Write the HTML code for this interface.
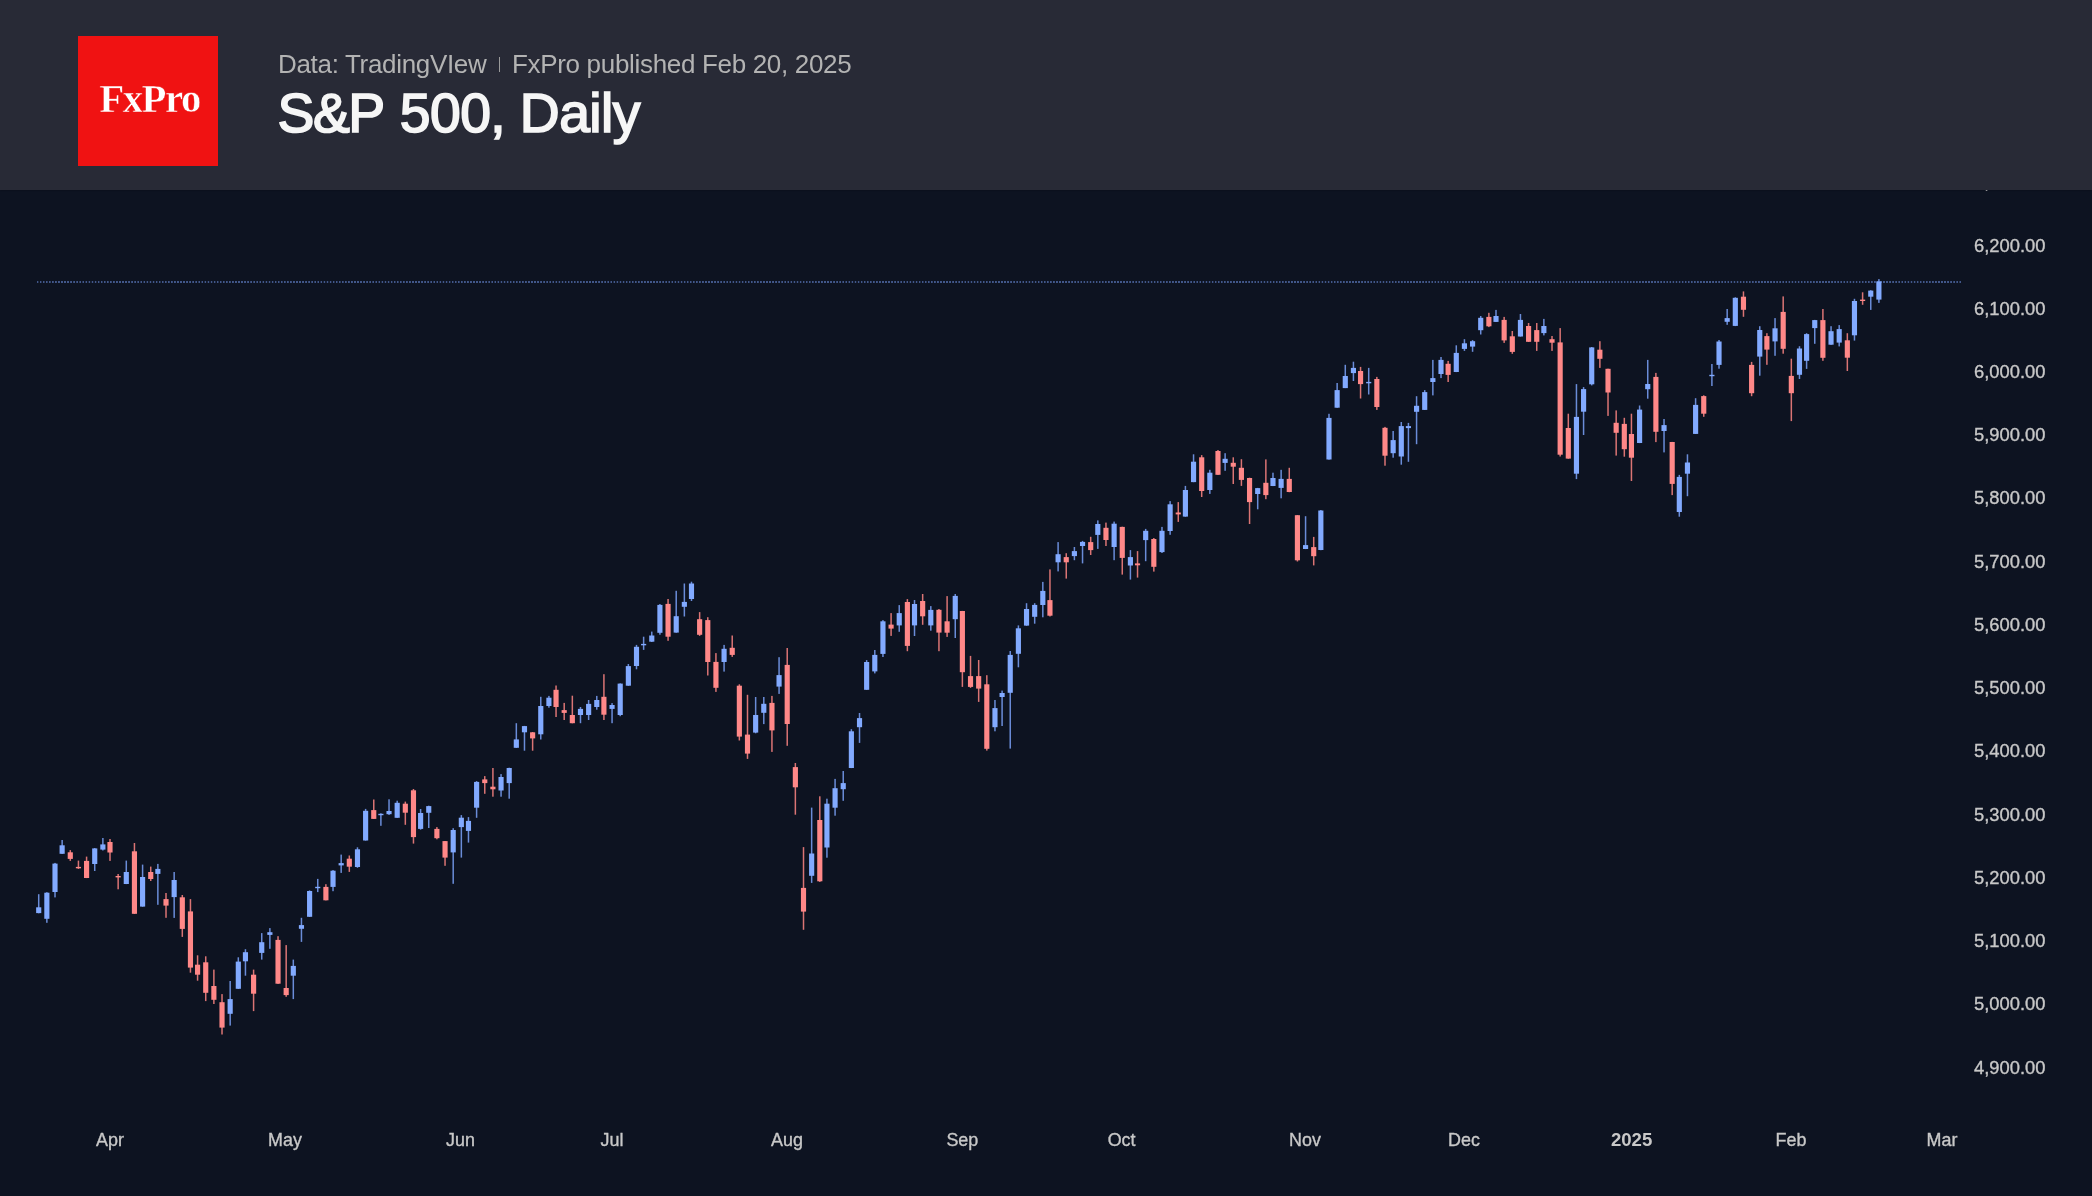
<!DOCTYPE html>
<html><head><meta charset="utf-8"><title>S&amp;P 500, Daily</title>
<style>
html,body{margin:0;padding:0;}
body{width:2092px;height:1196px;overflow:hidden;background:#0d1321;font-family:"Liberation Sans",sans-serif;position:relative;}
#chart{will-change:transform;position:absolute;left:0;top:0;width:2092px;height:1196px;background:#0d1321;overflow:hidden;}
#hdr{will-change:transform;position:absolute;left:0;top:0;width:2092px;height:189.8px;background:#282a36;box-shadow:0 0 2px rgba(0,0,0,.35);}
#logo{position:absolute;left:78px;top:36px;width:140px;height:129.6px;background:#f01212;}
#logo span{position:absolute;left:0;width:140px;text-align:center;top:43.0px;padding-left:1.6px;font-family:"Liberation Serif",serif;font-weight:bold;font-size:40.8px;line-height:40px;color:#fff;-webkit-text-stroke:0.5px #f01212;letter-spacing:-1.45px;}
#sub{position:absolute;left:278px;top:48px;font-size:26px;line-height:32px;color:#b3b3b3;white-space:nowrap;letter-spacing:-0.32px;}
#sep{position:absolute;left:499px;top:56.5px;width:1.2px;height:15px;background:#9a9a9a;}
#ttl{position:absolute;left:277.6px;top:81.1px;font-size:55.3px;line-height:64px;font-weight:normal;color:#f6f6f6;-webkit-text-stroke:1.7px #f6f6f6;white-space:nowrap;letter-spacing:-0.6px;}
.yl{position:absolute;left:1974px;width:90px;height:24px;line-height:24px;font-size:18.35px;color:#c8c8c8;-webkit-text-stroke:0.35px #c8c8c8;white-space:nowrap;}
.xl{position:absolute;top:1127.8px;width:80px;height:24px;line-height:24px;text-align:center;font-size:17.9px;color:#c8c8c8;-webkit-text-stroke:0.35px #c8c8c8;white-space:nowrap;}
.xl.b{font-weight:bold;font-size:18.6px;-webkit-text-stroke:0;}
#dot{position:absolute;left:36.6px;top:281.2px;width:1924.2px;height:1.35px;background:repeating-linear-gradient(to right,#41578a 0,#41578a 1.1px,rgba(65,87,138,0) 1.7px,rgba(65,87,138,0) 2.5px,#41578a 3.052px);}
svg{position:absolute;left:0;top:0;}
</style></head><body>
<div id="chart">
<div class="yl" style="top:170.3px"><span style="visibility:hidden">6</span>,<span style="visibility:hidden">300.00</span></div>
<div class="yl" style="top:233.5px">6,200.00</div>
<div class="yl" style="top:296.7px">6,100.00</div>
<div class="yl" style="top:360.0px">6,000.00</div>
<div class="yl" style="top:423.2px">5,900.00</div>
<div class="yl" style="top:486.4px">5,800.00</div>
<div class="yl" style="top:549.6px">5,700.00</div>
<div class="yl" style="top:612.9px">5,600.00</div>
<div class="yl" style="top:676.1px">5,500.00</div>
<div class="yl" style="top:739.3px">5,400.00</div>
<div class="yl" style="top:802.6px">5,300.00</div>
<div class="yl" style="top:865.8px">5,200.00</div>
<div class="yl" style="top:929.0px">5,100.00</div>
<div class="yl" style="top:992.3px">5,000.00</div>
<div class="yl" style="top:1055.5px">4,900.00</div>
<div class="xl" style="left:70.0px">Apr</div>
<div class="xl" style="left:245.0px">May</div>
<div class="xl" style="left:420.5px">Jun</div>
<div class="xl" style="left:572.0px">Jul</div>
<div class="xl" style="left:747.0px">Aug</div>
<div class="xl" style="left:922.3px">Sep</div>
<div class="xl" style="left:1081.6px">Oct</div>
<div class="xl" style="left:1265.0px">Nov</div>
<div class="xl" style="left:1424.0px">Dec</div>
<div class="xl b" style="left:1591.6px">2025</div>
<div class="xl" style="left:1751.0px">Feb</div>
<div class="xl" style="left:1902.0px">Mar</div>
<div id="dot"></div>
<svg width="2092" height="1196" viewBox="0 0 2092 1196" shape-rendering="auto">
<rect x="37.96" y="894.2" width="1.5" height="19.1" fill="#6a8cd8"/>
<rect x="36.14" y="907.3" width="5.15" height="5.8" fill="#82aaff"/>
<rect x="46.11" y="892.2" width="1.5" height="30.6" fill="#6a8cd8"/>
<rect x="44.29" y="892.7" width="5.15" height="26.1" fill="#82aaff"/>
<rect x="54.26" y="862.9" width="1.5" height="34.5" fill="#6a8cd8"/>
<rect x="52.43" y="863.6" width="5.15" height="28.4" fill="#82aaff"/>
<rect x="61.39" y="840.0" width="1.5" height="13.9" fill="#6a8cd8"/>
<rect x="59.56" y="845.3" width="5.15" height="8.5" fill="#82aaff"/>
<rect x="69.53" y="850.1" width="1.5" height="10.8" fill="#da7474"/>
<rect x="67.71" y="852.3" width="5.15" height="6.6" fill="#ff8888"/>
<rect x="77.68" y="860.6" width="1.5" height="8.3" fill="#da7474"/>
<rect x="75.86" y="866.9" width="5.15" height="1.4" fill="#ff8888"/>
<rect x="85.83" y="856.6" width="1.5" height="21.5" fill="#da7474"/>
<rect x="84.00" y="860.9" width="5.15" height="17.1" fill="#ff8888"/>
<rect x="93.97" y="848.1" width="1.5" height="22.9" fill="#6a8cd8"/>
<rect x="92.15" y="848.4" width="5.15" height="15.6" fill="#82aaff"/>
<rect x="102.12" y="838.0" width="1.5" height="12.5" fill="#6a8cd8"/>
<rect x="100.30" y="844.4" width="5.15" height="5.2" fill="#82aaff"/>
<rect x="109.25" y="839.0" width="1.5" height="21.9" fill="#da7474"/>
<rect x="107.42" y="842.0" width="5.15" height="10.5" fill="#ff8888"/>
<rect x="117.40" y="874.0" width="1.5" height="15.3" fill="#da7474"/>
<rect x="115.57" y="876.0" width="5.15" height="1.4" fill="#ff8888"/>
<rect x="125.54" y="860.6" width="1.5" height="23.5" fill="#6a8cd8"/>
<rect x="123.72" y="872.0" width="5.15" height="12.0" fill="#82aaff"/>
<rect x="133.69" y="843.0" width="1.5" height="70.9" fill="#da7474"/>
<rect x="131.87" y="851.3" width="5.15" height="62.5" fill="#ff8888"/>
<rect x="141.84" y="864.6" width="1.5" height="42.1" fill="#6a8cd8"/>
<rect x="140.01" y="877.0" width="5.15" height="29.6" fill="#82aaff"/>
<rect x="149.98" y="866.6" width="1.5" height="14.4" fill="#da7474"/>
<rect x="148.16" y="872.0" width="5.15" height="7.0" fill="#ff8888"/>
<rect x="157.11" y="863.9" width="1.5" height="40.9" fill="#6a8cd8"/>
<rect x="155.29" y="868.9" width="5.15" height="5.0" fill="#82aaff"/>
<rect x="165.26" y="893.0" width="1.5" height="24.8" fill="#da7474"/>
<rect x="163.44" y="899.1" width="5.15" height="6.5" fill="#ff8888"/>
<rect x="173.41" y="872.0" width="1.5" height="45.9" fill="#6a8cd8"/>
<rect x="171.58" y="880.0" width="5.15" height="17.1" fill="#82aaff"/>
<rect x="181.55" y="895.0" width="1.5" height="41.9" fill="#da7474"/>
<rect x="179.73" y="897.3" width="5.15" height="31.6" fill="#ff8888"/>
<rect x="189.70" y="899.1" width="1.5" height="73.6" fill="#da7474"/>
<rect x="187.88" y="911.4" width="5.15" height="56.2" fill="#ff8888"/>
<rect x="196.83" y="955.3" width="1.5" height="25.4" fill="#da7474"/>
<rect x="195.00" y="964.7" width="5.15" height="10.0" fill="#ff8888"/>
<rect x="204.98" y="956.3" width="1.5" height="44.8" fill="#da7474"/>
<rect x="203.15" y="962.3" width="5.15" height="30.5" fill="#ff8888"/>
<rect x="213.12" y="969.6" width="1.5" height="34.4" fill="#da7474"/>
<rect x="211.30" y="986.0" width="5.15" height="13.8" fill="#ff8888"/>
<rect x="221.27" y="994.1" width="1.5" height="40.4" fill="#da7474"/>
<rect x="219.45" y="1002.2" width="5.15" height="25.4" fill="#ff8888"/>
<rect x="229.42" y="981.0" width="1.5" height="44.6" fill="#6a8cd8"/>
<rect x="227.59" y="999.1" width="5.15" height="14.7" fill="#82aaff"/>
<rect x="237.56" y="957.3" width="1.5" height="31.6" fill="#6a8cd8"/>
<rect x="235.74" y="961.6" width="5.15" height="27.2" fill="#82aaff"/>
<rect x="244.69" y="949.2" width="1.5" height="26.5" fill="#6a8cd8"/>
<rect x="242.87" y="952.2" width="5.15" height="9.1" fill="#82aaff"/>
<rect x="252.84" y="969.6" width="1.5" height="41.5" fill="#da7474"/>
<rect x="251.02" y="974.7" width="5.15" height="19.0" fill="#ff8888"/>
<rect x="260.99" y="933.1" width="1.5" height="26.5" fill="#6a8cd8"/>
<rect x="259.16" y="942.2" width="5.15" height="10.7" fill="#82aaff"/>
<rect x="269.13" y="928.1" width="1.5" height="20.7" fill="#6a8cd8"/>
<rect x="267.31" y="932.2" width="5.15" height="2.7" fill="#82aaff"/>
<rect x="277.28" y="936.2" width="1.5" height="47.7" fill="#da7474"/>
<rect x="275.46" y="939.9" width="5.15" height="43.8" fill="#ff8888"/>
<rect x="285.43" y="945.1" width="1.5" height="51.7" fill="#da7474"/>
<rect x="283.60" y="988.0" width="5.15" height="7.1" fill="#ff8888"/>
<rect x="292.56" y="959.6" width="1.5" height="39.5" fill="#6a8cd8"/>
<rect x="290.73" y="965.9" width="5.15" height="9.8" fill="#82aaff"/>
<rect x="300.70" y="917.8" width="1.5" height="24.1" fill="#6a8cd8"/>
<rect x="298.88" y="925.1" width="5.15" height="3.7" fill="#82aaff"/>
<rect x="308.85" y="890.4" width="1.5" height="26.5" fill="#6a8cd8"/>
<rect x="307.03" y="891.0" width="5.15" height="25.8" fill="#82aaff"/>
<rect x="317.00" y="878.9" width="1.5" height="13.2" fill="#6a8cd8"/>
<rect x="315.17" y="886.8" width="5.15" height="1.4" fill="#82aaff"/>
<rect x="325.14" y="884.2" width="1.5" height="16.2" fill="#da7474"/>
<rect x="323.32" y="886.9" width="5.15" height="13.4" fill="#ff8888"/>
<rect x="332.27" y="870.1" width="1.5" height="21.1" fill="#6a8cd8"/>
<rect x="330.45" y="870.7" width="5.15" height="16.2" fill="#82aaff"/>
<rect x="340.42" y="854.6" width="1.5" height="18.3" fill="#6a8cd8"/>
<rect x="338.59" y="863.1" width="5.15" height="2.3" fill="#82aaff"/>
<rect x="348.57" y="855.5" width="1.5" height="16.4" fill="#da7474"/>
<rect x="346.74" y="858.7" width="5.15" height="8.0" fill="#ff8888"/>
<rect x="356.71" y="847.3" width="1.5" height="20.5" fill="#6a8cd8"/>
<rect x="354.89" y="849.3" width="5.15" height="17.7" fill="#82aaff"/>
<rect x="364.86" y="808.9" width="1.5" height="31.7" fill="#6a8cd8"/>
<rect x="363.04" y="810.8" width="5.15" height="29.7" fill="#82aaff"/>
<rect x="373.01" y="799.5" width="1.5" height="19.4" fill="#da7474"/>
<rect x="371.18" y="810.1" width="5.15" height="8.8" fill="#ff8888"/>
<rect x="380.14" y="813.3" width="1.5" height="12.5" fill="#6a8cd8"/>
<rect x="378.31" y="813.8" width="5.15" height="1.4" fill="#82aaff"/>
<rect x="388.28" y="799.3" width="1.5" height="15.6" fill="#6a8cd8"/>
<rect x="386.46" y="811.0" width="5.15" height="3.2" fill="#82aaff"/>
<rect x="396.43" y="800.7" width="1.5" height="17.2" fill="#6a8cd8"/>
<rect x="394.61" y="802.8" width="5.15" height="15.0" fill="#82aaff"/>
<rect x="404.58" y="801.6" width="1.5" height="23.2" fill="#da7474"/>
<rect x="402.75" y="803.7" width="5.15" height="9.0" fill="#ff8888"/>
<rect x="412.72" y="789.0" width="1.5" height="54.6" fill="#da7474"/>
<rect x="410.90" y="790.3" width="5.15" height="46.8" fill="#ff8888"/>
<rect x="419.85" y="809.0" width="1.5" height="20.7" fill="#6a8cd8"/>
<rect x="418.03" y="813.0" width="5.15" height="15.9" fill="#82aaff"/>
<rect x="428.00" y="805.7" width="1.5" height="22.3" fill="#6a8cd8"/>
<rect x="426.17" y="806.1" width="5.15" height="6.7" fill="#82aaff"/>
<rect x="436.15" y="827.1" width="1.5" height="12.2" fill="#da7474"/>
<rect x="434.32" y="828.9" width="5.15" height="9.3" fill="#ff8888"/>
<rect x="444.29" y="841.0" width="1.5" height="24.8" fill="#da7474"/>
<rect x="442.47" y="841.1" width="5.15" height="16.5" fill="#ff8888"/>
<rect x="452.44" y="828.2" width="1.5" height="55.6" fill="#6a8cd8"/>
<rect x="450.62" y="830.0" width="5.15" height="22.4" fill="#82aaff"/>
<rect x="460.59" y="815.1" width="1.5" height="42.5" fill="#6a8cd8"/>
<rect x="458.76" y="817.7" width="5.15" height="9.4" fill="#82aaff"/>
<rect x="467.72" y="817.1" width="1.5" height="25.5" fill="#6a8cd8"/>
<rect x="465.89" y="820.9" width="5.15" height="10.0" fill="#82aaff"/>
<rect x="475.86" y="781.1" width="1.5" height="36.7" fill="#6a8cd8"/>
<rect x="474.04" y="781.9" width="5.15" height="25.8" fill="#82aaff"/>
<rect x="484.01" y="776.1" width="1.5" height="17.7" fill="#da7474"/>
<rect x="482.19" y="779.4" width="5.15" height="3.7" fill="#ff8888"/>
<rect x="492.16" y="768.0" width="1.5" height="28.7" fill="#da7474"/>
<rect x="490.33" y="786.7" width="5.15" height="2.6" fill="#ff8888"/>
<rect x="500.30" y="774.1" width="1.5" height="22.6" fill="#6a8cd8"/>
<rect x="498.48" y="777.0" width="5.15" height="13.5" fill="#82aaff"/>
<rect x="508.45" y="767.7" width="1.5" height="31.0" fill="#6a8cd8"/>
<rect x="506.63" y="768.0" width="5.15" height="15.1" fill="#82aaff"/>
<rect x="515.58" y="723.2" width="1.5" height="24.7" fill="#6a8cd8"/>
<rect x="513.75" y="739.4" width="5.15" height="8.4" fill="#82aaff"/>
<rect x="523.73" y="725.9" width="1.5" height="24.8" fill="#6a8cd8"/>
<rect x="521.90" y="726.1" width="5.15" height="6.2" fill="#82aaff"/>
<rect x="531.87" y="732.0" width="1.5" height="18.7" fill="#da7474"/>
<rect x="530.05" y="732.3" width="5.15" height="6.1" fill="#ff8888"/>
<rect x="540.02" y="696.8" width="1.5" height="42.7" fill="#6a8cd8"/>
<rect x="538.20" y="706.0" width="5.15" height="28.3" fill="#82aaff"/>
<rect x="548.17" y="695.9" width="1.5" height="11.8" fill="#6a8cd8"/>
<rect x="546.34" y="697.7" width="5.15" height="8.3" fill="#82aaff"/>
<rect x="555.30" y="685.5" width="1.5" height="31.5" fill="#da7474"/>
<rect x="553.47" y="689.8" width="5.15" height="17.2" fill="#ff8888"/>
<rect x="563.44" y="702.9" width="1.5" height="17.1" fill="#da7474"/>
<rect x="561.62" y="710.1" width="5.15" height="2.8" fill="#ff8888"/>
<rect x="571.59" y="695.7" width="1.5" height="27.6" fill="#da7474"/>
<rect x="569.76" y="715.0" width="5.15" height="8.2" fill="#ff8888"/>
<rect x="579.74" y="707.0" width="1.5" height="16.2" fill="#6a8cd8"/>
<rect x="577.91" y="708.9" width="5.15" height="6.1" fill="#82aaff"/>
<rect x="587.88" y="700.0" width="1.5" height="20.0" fill="#6a8cd8"/>
<rect x="586.06" y="703.9" width="5.15" height="11.1" fill="#82aaff"/>
<rect x="596.03" y="695.9" width="1.5" height="13.8" fill="#6a8cd8"/>
<rect x="594.21" y="700.0" width="5.15" height="7.0" fill="#82aaff"/>
<rect x="603.16" y="674.2" width="1.5" height="45.8" fill="#da7474"/>
<rect x="601.33" y="696.8" width="5.15" height="17.9" fill="#ff8888"/>
<rect x="611.31" y="703.1" width="1.5" height="20.1" fill="#6a8cd8"/>
<rect x="609.48" y="705.0" width="5.15" height="3.9" fill="#82aaff"/>
<rect x="619.45" y="683.4" width="1.5" height="32.8" fill="#6a8cd8"/>
<rect x="617.63" y="683.6" width="5.15" height="31.4" fill="#82aaff"/>
<rect x="627.60" y="664.0" width="1.5" height="21.8" fill="#6a8cd8"/>
<rect x="625.78" y="666.1" width="5.15" height="19.6" fill="#82aaff"/>
<rect x="635.75" y="644.9" width="1.5" height="24.4" fill="#6a8cd8"/>
<rect x="633.92" y="646.8" width="5.15" height="19.2" fill="#82aaff"/>
<rect x="642.88" y="636.7" width="1.5" height="13.2" fill="#6a8cd8"/>
<rect x="641.05" y="643.9" width="5.15" height="1.4" fill="#82aaff"/>
<rect x="651.02" y="631.6" width="1.5" height="10.4" fill="#6a8cd8"/>
<rect x="649.20" y="635.5" width="5.15" height="6.2" fill="#82aaff"/>
<rect x="659.17" y="604.0" width="1.5" height="30.7" fill="#6a8cd8"/>
<rect x="657.34" y="604.9" width="5.15" height="27.9" fill="#82aaff"/>
<rect x="667.32" y="599.0" width="1.5" height="41.8" fill="#da7474"/>
<rect x="665.49" y="603.9" width="5.15" height="32.8" fill="#ff8888"/>
<rect x="675.46" y="590.8" width="1.5" height="41.9" fill="#6a8cd8"/>
<rect x="673.64" y="616.2" width="5.15" height="16.4" fill="#82aaff"/>
<rect x="683.61" y="583.5" width="1.5" height="33.0" fill="#6a8cd8"/>
<rect x="681.79" y="601.9" width="5.15" height="4.9" fill="#82aaff"/>
<rect x="690.74" y="581.7" width="1.5" height="19.3" fill="#6a8cd8"/>
<rect x="688.91" y="583.5" width="5.15" height="15.5" fill="#82aaff"/>
<rect x="698.89" y="612.1" width="1.5" height="23.8" fill="#da7474"/>
<rect x="697.06" y="619.2" width="5.15" height="15.6" fill="#ff8888"/>
<rect x="707.03" y="617.2" width="1.5" height="58.3" fill="#da7474"/>
<rect x="705.21" y="620.1" width="5.15" height="41.9" fill="#ff8888"/>
<rect x="715.18" y="653.1" width="1.5" height="38.8" fill="#da7474"/>
<rect x="713.36" y="661.9" width="5.15" height="25.9" fill="#ff8888"/>
<rect x="723.33" y="644.9" width="1.5" height="26.7" fill="#6a8cd8"/>
<rect x="721.50" y="648.8" width="5.15" height="13.2" fill="#82aaff"/>
<rect x="731.47" y="635.5" width="1.5" height="21.4" fill="#da7474"/>
<rect x="729.65" y="647.8" width="5.15" height="7.1" fill="#ff8888"/>
<rect x="738.60" y="684.3" width="1.5" height="56.2" fill="#da7474"/>
<rect x="736.78" y="685.7" width="5.15" height="50.9" fill="#ff8888"/>
<rect x="746.75" y="694.8" width="1.5" height="64.1" fill="#da7474"/>
<rect x="744.92" y="734.6" width="5.15" height="19.0" fill="#ff8888"/>
<rect x="754.90" y="697.0" width="1.5" height="36.3" fill="#6a8cd8"/>
<rect x="753.07" y="715.0" width="5.15" height="17.6" fill="#82aaff"/>
<rect x="763.04" y="697.0" width="1.5" height="27.1" fill="#6a8cd8"/>
<rect x="761.22" y="703.8" width="5.15" height="9.0" fill="#82aaff"/>
<rect x="771.19" y="695.9" width="1.5" height="56.0" fill="#da7474"/>
<rect x="769.37" y="702.9" width="5.15" height="27.5" fill="#ff8888"/>
<rect x="778.32" y="657.2" width="1.5" height="36.7" fill="#6a8cd8"/>
<rect x="776.49" y="675.1" width="5.15" height="11.5" fill="#82aaff"/>
<rect x="786.47" y="648.0" width="1.5" height="97.8" fill="#da7474"/>
<rect x="784.64" y="664.9" width="5.15" height="59.1" fill="#ff8888"/>
<rect x="794.61" y="763.0" width="1.5" height="51.7" fill="#da7474"/>
<rect x="792.79" y="767.1" width="5.15" height="20.2" fill="#ff8888"/>
<rect x="802.76" y="847.1" width="1.5" height="82.7" fill="#da7474"/>
<rect x="800.93" y="887.9" width="5.15" height="23.7" fill="#ff8888"/>
<rect x="810.91" y="807.6" width="1.5" height="75.3" fill="#6a8cd8"/>
<rect x="809.08" y="853.5" width="5.15" height="22.3" fill="#82aaff"/>
<rect x="819.05" y="796.3" width="1.5" height="85.6" fill="#da7474"/>
<rect x="817.23" y="820.0" width="5.15" height="61.3" fill="#ff8888"/>
<rect x="826.18" y="798.7" width="1.5" height="59.0" fill="#6a8cd8"/>
<rect x="824.36" y="803.7" width="5.15" height="43.8" fill="#82aaff"/>
<rect x="834.33" y="778.9" width="1.5" height="36.8" fill="#6a8cd8"/>
<rect x="832.50" y="788.2" width="5.15" height="19.5" fill="#82aaff"/>
<rect x="842.48" y="771.0" width="1.5" height="29.8" fill="#6a8cd8"/>
<rect x="840.65" y="783.1" width="5.15" height="6.1" fill="#82aaff"/>
<rect x="850.62" y="729.2" width="1.5" height="38.9" fill="#6a8cd8"/>
<rect x="848.80" y="731.3" width="5.15" height="36.7" fill="#82aaff"/>
<rect x="858.77" y="713.0" width="1.5" height="29.9" fill="#6a8cd8"/>
<rect x="856.95" y="718.1" width="5.15" height="9.1" fill="#82aaff"/>
<rect x="865.90" y="660.1" width="1.5" height="29.7" fill="#6a8cd8"/>
<rect x="864.07" y="662.0" width="5.15" height="27.8" fill="#82aaff"/>
<rect x="874.05" y="650.0" width="1.5" height="23.4" fill="#6a8cd8"/>
<rect x="872.22" y="654.9" width="5.15" height="16.5" fill="#82aaff"/>
<rect x="882.19" y="620.1" width="1.5" height="36.9" fill="#6a8cd8"/>
<rect x="880.37" y="621.3" width="5.15" height="32.6" fill="#82aaff"/>
<rect x="890.34" y="613.1" width="1.5" height="22.8" fill="#da7474"/>
<rect x="888.51" y="624.6" width="5.15" height="4.0" fill="#ff8888"/>
<rect x="898.49" y="605.1" width="1.5" height="26.7" fill="#6a8cd8"/>
<rect x="896.66" y="613.1" width="5.15" height="12.3" fill="#82aaff"/>
<rect x="906.63" y="599.1" width="1.5" height="52.1" fill="#da7474"/>
<rect x="904.81" y="602.0" width="5.15" height="43.9" fill="#ff8888"/>
<rect x="913.76" y="600.0" width="1.5" height="36.0" fill="#6a8cd8"/>
<rect x="911.94" y="604.0" width="5.15" height="21.4" fill="#82aaff"/>
<rect x="921.91" y="594.0" width="1.5" height="30.8" fill="#da7474"/>
<rect x="920.08" y="601.0" width="5.15" height="15.3" fill="#ff8888"/>
<rect x="930.06" y="606.1" width="1.5" height="24.6" fill="#6a8cd8"/>
<rect x="928.23" y="609.9" width="5.15" height="15.5" fill="#82aaff"/>
<rect x="938.20" y="609.0" width="1.5" height="42.2" fill="#da7474"/>
<rect x="936.38" y="609.8" width="5.15" height="22.8" fill="#ff8888"/>
<rect x="946.35" y="596.1" width="1.5" height="40.8" fill="#da7474"/>
<rect x="944.53" y="621.3" width="5.15" height="11.4" fill="#ff8888"/>
<rect x="954.50" y="594.0" width="1.5" height="44.0" fill="#6a8cd8"/>
<rect x="952.67" y="595.9" width="5.15" height="23.3" fill="#82aaff"/>
<rect x="961.63" y="610.9" width="1.5" height="76.0" fill="#da7474"/>
<rect x="959.80" y="611.0" width="5.15" height="61.2" fill="#ff8888"/>
<rect x="969.77" y="655.9" width="1.5" height="32.0" fill="#da7474"/>
<rect x="967.95" y="676.1" width="5.15" height="10.8" fill="#ff8888"/>
<rect x="977.92" y="660.0" width="1.5" height="41.9" fill="#da7474"/>
<rect x="976.09" y="676.1" width="5.15" height="12.5" fill="#ff8888"/>
<rect x="986.07" y="675.2" width="1.5" height="75.4" fill="#da7474"/>
<rect x="984.24" y="684.3" width="5.15" height="64.5" fill="#ff8888"/>
<rect x="994.21" y="700.0" width="1.5" height="31.3" fill="#6a8cd8"/>
<rect x="992.39" y="708.1" width="5.15" height="19.1" fill="#82aaff"/>
<rect x="1001.34" y="690.6" width="1.5" height="35.4" fill="#6a8cd8"/>
<rect x="999.52" y="693.0" width="5.15" height="4.0" fill="#82aaff"/>
<rect x="1009.49" y="651.0" width="1.5" height="97.6" fill="#6a8cd8"/>
<rect x="1007.66" y="654.9" width="5.15" height="37.9" fill="#82aaff"/>
<rect x="1017.64" y="625.4" width="1.5" height="41.9" fill="#6a8cd8"/>
<rect x="1015.81" y="628.3" width="5.15" height="25.5" fill="#82aaff"/>
<rect x="1025.78" y="603.2" width="1.5" height="22.6" fill="#6a8cd8"/>
<rect x="1023.96" y="609.0" width="5.15" height="16.6" fill="#82aaff"/>
<rect x="1033.93" y="603.2" width="1.5" height="20.5" fill="#6a8cd8"/>
<rect x="1032.10" y="604.9" width="5.15" height="11.9" fill="#82aaff"/>
<rect x="1042.08" y="581.9" width="1.5" height="35.4" fill="#6a8cd8"/>
<rect x="1040.25" y="590.9" width="5.15" height="14.1" fill="#82aaff"/>
<rect x="1049.21" y="569.4" width="1.5" height="47.1" fill="#da7474"/>
<rect x="1047.38" y="600.1" width="5.15" height="15.6" fill="#ff8888"/>
<rect x="1057.35" y="542.1" width="1.5" height="29.3" fill="#6a8cd8"/>
<rect x="1055.53" y="554.2" width="5.15" height="8.1" fill="#82aaff"/>
<rect x="1065.50" y="553.2" width="1.5" height="25.4" fill="#da7474"/>
<rect x="1063.67" y="557.1" width="5.15" height="5.2" fill="#ff8888"/>
<rect x="1073.65" y="547.0" width="1.5" height="13.2" fill="#6a8cd8"/>
<rect x="1071.82" y="551.1" width="5.15" height="5.0" fill="#82aaff"/>
<rect x="1081.79" y="540.9" width="1.5" height="22.5" fill="#6a8cd8"/>
<rect x="1079.97" y="541.9" width="5.15" height="4.1" fill="#82aaff"/>
<rect x="1089.94" y="536.8" width="1.5" height="18.2" fill="#da7474"/>
<rect x="1088.12" y="542.1" width="5.15" height="8.0" fill="#ff8888"/>
<rect x="1097.07" y="520.4" width="1.5" height="28.5" fill="#6a8cd8"/>
<rect x="1095.24" y="524.0" width="5.15" height="10.9" fill="#82aaff"/>
<rect x="1105.22" y="522.6" width="1.5" height="23.4" fill="#da7474"/>
<rect x="1103.39" y="527.8" width="5.15" height="12.2" fill="#ff8888"/>
<rect x="1113.36" y="521.6" width="1.5" height="38.6" fill="#6a8cd8"/>
<rect x="1111.54" y="523.7" width="5.15" height="23.3" fill="#82aaff"/>
<rect x="1121.51" y="526.7" width="1.5" height="47.9" fill="#da7474"/>
<rect x="1119.68" y="526.9" width="5.15" height="31.0" fill="#ff8888"/>
<rect x="1129.66" y="550.1" width="1.5" height="29.5" fill="#6a8cd8"/>
<rect x="1127.83" y="557.1" width="5.15" height="8.4" fill="#82aaff"/>
<rect x="1136.79" y="551.1" width="1.5" height="26.5" fill="#da7474"/>
<rect x="1134.96" y="563.4" width="5.15" height="1.9" fill="#ff8888"/>
<rect x="1144.93" y="528.9" width="1.5" height="32.3" fill="#6a8cd8"/>
<rect x="1143.11" y="530.8" width="5.15" height="9.3" fill="#82aaff"/>
<rect x="1153.08" y="538.0" width="1.5" height="33.6" fill="#da7474"/>
<rect x="1151.25" y="539.0" width="5.15" height="27.8" fill="#ff8888"/>
<rect x="1161.23" y="526.9" width="1.5" height="26.1" fill="#6a8cd8"/>
<rect x="1159.40" y="530.8" width="5.15" height="21.3" fill="#82aaff"/>
<rect x="1169.37" y="501.1" width="1.5" height="33.7" fill="#6a8cd8"/>
<rect x="1167.55" y="504.3" width="5.15" height="26.7" fill="#82aaff"/>
<rect x="1177.52" y="502.1" width="1.5" height="19.8" fill="#da7474"/>
<rect x="1175.70" y="512.5" width="5.15" height="1.9" fill="#ff8888"/>
<rect x="1184.65" y="485.9" width="1.5" height="30.8" fill="#6a8cd8"/>
<rect x="1182.82" y="490.0" width="5.15" height="26.6" fill="#82aaff"/>
<rect x="1192.80" y="454.3" width="1.5" height="27.9" fill="#6a8cd8"/>
<rect x="1190.97" y="461.7" width="5.15" height="20.4" fill="#82aaff"/>
<rect x="1200.94" y="455.1" width="1.5" height="41.9" fill="#da7474"/>
<rect x="1199.12" y="457.3" width="5.15" height="33.7" fill="#ff8888"/>
<rect x="1209.09" y="469.8" width="1.5" height="24.1" fill="#6a8cd8"/>
<rect x="1207.26" y="472.7" width="5.15" height="17.3" fill="#82aaff"/>
<rect x="1217.24" y="450.0" width="1.5" height="24.9" fill="#da7474"/>
<rect x="1215.41" y="451.0" width="5.15" height="23.8" fill="#ff8888"/>
<rect x="1224.37" y="453.2" width="1.5" height="17.6" fill="#6a8cd8"/>
<rect x="1222.54" y="458.8" width="5.15" height="4.1" fill="#82aaff"/>
<rect x="1232.51" y="457.3" width="1.5" height="26.7" fill="#da7474"/>
<rect x="1230.69" y="462.8" width="5.15" height="3.9" fill="#ff8888"/>
<rect x="1240.66" y="459.2" width="1.5" height="26.7" fill="#da7474"/>
<rect x="1238.83" y="467.8" width="5.15" height="12.1" fill="#ff8888"/>
<rect x="1248.81" y="477.7" width="1.5" height="46.3" fill="#da7474"/>
<rect x="1246.98" y="478.0" width="5.15" height="24.1" fill="#ff8888"/>
<rect x="1256.95" y="487.9" width="1.5" height="21.4" fill="#6a8cd8"/>
<rect x="1255.13" y="488.1" width="5.15" height="5.9" fill="#82aaff"/>
<rect x="1265.10" y="459.4" width="1.5" height="39.8" fill="#da7474"/>
<rect x="1263.27" y="482.8" width="5.15" height="12.3" fill="#ff8888"/>
<rect x="1272.23" y="472.7" width="1.5" height="13.4" fill="#6a8cd8"/>
<rect x="1270.40" y="478.0" width="5.15" height="8.0" fill="#82aaff"/>
<rect x="1280.38" y="469.8" width="1.5" height="28.5" fill="#6a8cd8"/>
<rect x="1278.55" y="478.9" width="5.15" height="9.0" fill="#82aaff"/>
<rect x="1288.52" y="467.8" width="1.5" height="24.4" fill="#da7474"/>
<rect x="1286.70" y="478.9" width="5.15" height="13.1" fill="#ff8888"/>
<rect x="1296.67" y="515.1" width="1.5" height="46.4" fill="#da7474"/>
<rect x="1294.84" y="515.2" width="5.15" height="45.1" fill="#ff8888"/>
<rect x="1304.82" y="516.2" width="1.5" height="32.9" fill="#6a8cd8"/>
<rect x="1302.99" y="545.1" width="5.15" height="3.9" fill="#82aaff"/>
<rect x="1312.96" y="536.9" width="1.5" height="28.5" fill="#da7474"/>
<rect x="1311.14" y="547.1" width="5.15" height="9.1" fill="#ff8888"/>
<rect x="1320.09" y="510.0" width="1.5" height="40.2" fill="#6a8cd8"/>
<rect x="1318.27" y="510.5" width="5.15" height="39.5" fill="#82aaff"/>
<rect x="1328.24" y="413.8" width="1.5" height="45.8" fill="#6a8cd8"/>
<rect x="1326.41" y="417.9" width="5.15" height="41.6" fill="#82aaff"/>
<rect x="1336.39" y="383.0" width="1.5" height="24.8" fill="#6a8cd8"/>
<rect x="1334.56" y="390.1" width="5.15" height="17.6" fill="#82aaff"/>
<rect x="1344.53" y="364.8" width="1.5" height="23.3" fill="#6a8cd8"/>
<rect x="1342.71" y="376.0" width="5.15" height="12.1" fill="#82aaff"/>
<rect x="1352.68" y="361.7" width="1.5" height="19.3" fill="#6a8cd8"/>
<rect x="1350.85" y="367.9" width="5.15" height="5.2" fill="#82aaff"/>
<rect x="1359.81" y="366.9" width="1.5" height="31.6" fill="#da7474"/>
<rect x="1357.98" y="371.0" width="5.15" height="13.1" fill="#ff8888"/>
<rect x="1367.96" y="367.9" width="1.5" height="26.6" fill="#6a8cd8"/>
<rect x="1366.13" y="381.9" width="5.15" height="1.4" fill="#82aaff"/>
<rect x="1376.10" y="376.9" width="1.5" height="33.0" fill="#da7474"/>
<rect x="1374.28" y="379.0" width="5.15" height="28.0" fill="#ff8888"/>
<rect x="1384.25" y="426.9" width="1.5" height="38.8" fill="#da7474"/>
<rect x="1382.42" y="427.8" width="5.15" height="27.9" fill="#ff8888"/>
<rect x="1392.40" y="431.0" width="1.5" height="26.7" fill="#6a8cd8"/>
<rect x="1390.57" y="440.1" width="5.15" height="13.1" fill="#82aaff"/>
<rect x="1400.54" y="422.0" width="1.5" height="42.7" fill="#6a8cd8"/>
<rect x="1398.72" y="426.1" width="5.15" height="30.4" fill="#82aaff"/>
<rect x="1407.67" y="422.9" width="1.5" height="38.9" fill="#6a8cd8"/>
<rect x="1405.85" y="426.1" width="5.15" height="2.0" fill="#82aaff"/>
<rect x="1415.82" y="396.2" width="1.5" height="48.0" fill="#6a8cd8"/>
<rect x="1413.99" y="405.8" width="5.15" height="6.0" fill="#82aaff"/>
<rect x="1423.97" y="390.1" width="1.5" height="19.9" fill="#6a8cd8"/>
<rect x="1422.14" y="392.1" width="5.15" height="17.8" fill="#82aaff"/>
<rect x="1432.11" y="359.9" width="1.5" height="35.5" fill="#6a8cd8"/>
<rect x="1430.29" y="378.1" width="5.15" height="3.9" fill="#82aaff"/>
<rect x="1440.26" y="357.0" width="1.5" height="21.1" fill="#6a8cd8"/>
<rect x="1438.43" y="359.9" width="5.15" height="14.1" fill="#82aaff"/>
<rect x="1447.39" y="360.9" width="1.5" height="21.1" fill="#da7474"/>
<rect x="1445.56" y="363.8" width="5.15" height="11.1" fill="#ff8888"/>
<rect x="1455.54" y="345.3" width="1.5" height="26.8" fill="#6a8cd8"/>
<rect x="1453.71" y="352.9" width="5.15" height="19.1" fill="#82aaff"/>
<rect x="1463.68" y="339.2" width="1.5" height="11.7" fill="#6a8cd8"/>
<rect x="1461.86" y="343.3" width="5.15" height="5.6" fill="#82aaff"/>
<rect x="1471.83" y="340.1" width="1.5" height="11.7" fill="#6a8cd8"/>
<rect x="1470.00" y="341.2" width="5.15" height="5.4" fill="#82aaff"/>
<rect x="1479.98" y="316.0" width="1.5" height="18.5" fill="#6a8cd8"/>
<rect x="1478.15" y="317.8" width="5.15" height="12.4" fill="#82aaff"/>
<rect x="1488.12" y="312.8" width="1.5" height="14.3" fill="#da7474"/>
<rect x="1486.30" y="316.9" width="5.15" height="9.4" fill="#ff8888"/>
<rect x="1495.25" y="309.9" width="1.5" height="12.1" fill="#6a8cd8"/>
<rect x="1493.43" y="316.0" width="5.15" height="5.9" fill="#82aaff"/>
<rect x="1503.40" y="316.9" width="1.5" height="26.0" fill="#da7474"/>
<rect x="1501.57" y="319.9" width="5.15" height="20.5" fill="#ff8888"/>
<rect x="1511.55" y="331.0" width="1.5" height="22.8" fill="#da7474"/>
<rect x="1509.72" y="336.3" width="5.15" height="15.6" fill="#ff8888"/>
<rect x="1519.69" y="314.0" width="1.5" height="22.6" fill="#6a8cd8"/>
<rect x="1517.87" y="319.9" width="5.15" height="16.6" fill="#82aaff"/>
<rect x="1527.84" y="323.0" width="1.5" height="18.9" fill="#da7474"/>
<rect x="1526.01" y="326.0" width="5.15" height="15.8" fill="#ff8888"/>
<rect x="1535.99" y="323.0" width="1.5" height="27.9" fill="#da7474"/>
<rect x="1534.16" y="330.1" width="5.15" height="11.7" fill="#ff8888"/>
<rect x="1543.11" y="318.9" width="1.5" height="16.5" fill="#6a8cd8"/>
<rect x="1541.29" y="326.0" width="5.15" height="7.1" fill="#82aaff"/>
<rect x="1551.26" y="336.0" width="1.5" height="14.9" fill="#da7474"/>
<rect x="1549.44" y="339.2" width="5.15" height="3.5" fill="#ff8888"/>
<rect x="1559.41" y="328.1" width="1.5" height="128.4" fill="#da7474"/>
<rect x="1557.58" y="342.4" width="5.15" height="112.3" fill="#ff8888"/>
<rect x="1567.56" y="413.7" width="1.5" height="45.0" fill="#da7474"/>
<rect x="1565.73" y="428.0" width="5.15" height="30.6" fill="#ff8888"/>
<rect x="1575.70" y="384.1" width="1.5" height="95.0" fill="#6a8cd8"/>
<rect x="1573.88" y="416.9" width="5.15" height="56.8" fill="#82aaff"/>
<rect x="1582.83" y="387.1" width="1.5" height="47.9" fill="#6a8cd8"/>
<rect x="1581.01" y="389.1" width="5.15" height="22.6" fill="#82aaff"/>
<rect x="1590.98" y="347.0" width="1.5" height="38.4" fill="#6a8cd8"/>
<rect x="1589.15" y="347.4" width="5.15" height="36.9" fill="#82aaff"/>
<rect x="1599.13" y="341.2" width="1.5" height="26.7" fill="#da7474"/>
<rect x="1597.30" y="349.7" width="5.15" height="9.1" fill="#ff8888"/>
<rect x="1607.27" y="368.7" width="1.5" height="47.2" fill="#da7474"/>
<rect x="1605.45" y="368.8" width="5.15" height="23.7" fill="#ff8888"/>
<rect x="1615.42" y="410.4" width="1.5" height="45.2" fill="#da7474"/>
<rect x="1613.59" y="422.8" width="5.15" height="10.0" fill="#ff8888"/>
<rect x="1623.57" y="417.8" width="1.5" height="38.9" fill="#da7474"/>
<rect x="1621.74" y="423.9" width="5.15" height="25.3" fill="#ff8888"/>
<rect x="1630.69" y="413.7" width="1.5" height="67.3" fill="#da7474"/>
<rect x="1628.87" y="434.0" width="5.15" height="23.7" fill="#ff8888"/>
<rect x="1638.84" y="405.5" width="1.5" height="37.6" fill="#6a8cd8"/>
<rect x="1637.02" y="409.6" width="5.15" height="33.4" fill="#82aaff"/>
<rect x="1646.99" y="359.9" width="1.5" height="38.8" fill="#6a8cd8"/>
<rect x="1645.16" y="384.0" width="5.15" height="5.2" fill="#82aaff"/>
<rect x="1655.14" y="372.9" width="1.5" height="69.2" fill="#da7474"/>
<rect x="1653.31" y="376.9" width="5.15" height="54.9" fill="#ff8888"/>
<rect x="1663.28" y="419.0" width="1.5" height="33.4" fill="#6a8cd8"/>
<rect x="1661.46" y="425.1" width="5.15" height="5.9" fill="#82aaff"/>
<rect x="1671.43" y="441.9" width="1.5" height="53.2" fill="#da7474"/>
<rect x="1669.60" y="442.0" width="5.15" height="41.9" fill="#ff8888"/>
<rect x="1678.56" y="474.9" width="1.5" height="41.8" fill="#6a8cd8"/>
<rect x="1676.73" y="476.9" width="5.15" height="35.1" fill="#82aaff"/>
<rect x="1686.71" y="454.3" width="1.5" height="41.9" fill="#6a8cd8"/>
<rect x="1684.88" y="462.5" width="5.15" height="11.2" fill="#82aaff"/>
<rect x="1694.85" y="398.2" width="1.5" height="35.8" fill="#6a8cd8"/>
<rect x="1693.03" y="404.9" width="5.15" height="29.0" fill="#82aaff"/>
<rect x="1703.00" y="395.3" width="1.5" height="21.5" fill="#da7474"/>
<rect x="1701.17" y="396.1" width="5.15" height="17.6" fill="#ff8888"/>
<rect x="1711.15" y="364.0" width="1.5" height="22.0" fill="#6a8cd8"/>
<rect x="1709.32" y="374.8" width="5.15" height="1.4" fill="#82aaff"/>
<rect x="1718.27" y="340.0" width="1.5" height="28.7" fill="#6a8cd8"/>
<rect x="1716.45" y="341.5" width="5.15" height="23.4" fill="#82aaff"/>
<rect x="1726.42" y="309.0" width="1.5" height="15.8" fill="#6a8cd8"/>
<rect x="1724.60" y="318.1" width="5.15" height="3.7" fill="#82aaff"/>
<rect x="1734.57" y="297.3" width="1.5" height="28.8" fill="#6a8cd8"/>
<rect x="1732.74" y="297.8" width="5.15" height="28.1" fill="#82aaff"/>
<rect x="1742.72" y="291.4" width="1.5" height="25.4" fill="#da7474"/>
<rect x="1740.89" y="296.7" width="5.15" height="13.1" fill="#ff8888"/>
<rect x="1750.86" y="361.9" width="1.5" height="34.3" fill="#da7474"/>
<rect x="1749.04" y="364.9" width="5.15" height="28.3" fill="#ff8888"/>
<rect x="1759.01" y="326.2" width="1.5" height="49.5" fill="#6a8cd8"/>
<rect x="1757.18" y="330.0" width="5.15" height="26.6" fill="#82aaff"/>
<rect x="1766.14" y="333.2" width="1.5" height="31.6" fill="#da7474"/>
<rect x="1764.31" y="336.1" width="5.15" height="13.5" fill="#ff8888"/>
<rect x="1774.28" y="318.1" width="1.5" height="37.7" fill="#6a8cd8"/>
<rect x="1772.46" y="328.3" width="5.15" height="13.1" fill="#82aaff"/>
<rect x="1782.43" y="296.4" width="1.5" height="57.3" fill="#da7474"/>
<rect x="1780.61" y="311.9" width="5.15" height="36.9" fill="#ff8888"/>
<rect x="1790.58" y="358.7" width="1.5" height="62.4" fill="#da7474"/>
<rect x="1788.75" y="375.9" width="5.15" height="17.3" fill="#ff8888"/>
<rect x="1798.73" y="346.2" width="1.5" height="32.8" fill="#6a8cd8"/>
<rect x="1796.90" y="348.5" width="5.15" height="26.3" fill="#82aaff"/>
<rect x="1805.85" y="333.2" width="1.5" height="35.7" fill="#6a8cd8"/>
<rect x="1804.03" y="334.1" width="5.15" height="26.7" fill="#82aaff"/>
<rect x="1814.00" y="319.9" width="1.5" height="23.9" fill="#6a8cd8"/>
<rect x="1812.18" y="320.1" width="5.15" height="8.0" fill="#82aaff"/>
<rect x="1822.15" y="309.0" width="1.5" height="51.8" fill="#da7474"/>
<rect x="1820.32" y="320.1" width="5.15" height="37.7" fill="#ff8888"/>
<rect x="1830.30" y="326.2" width="1.5" height="18.6" fill="#6a8cd8"/>
<rect x="1828.47" y="331.2" width="5.15" height="13.5" fill="#82aaff"/>
<rect x="1838.44" y="325.1" width="1.5" height="21.3" fill="#6a8cd8"/>
<rect x="1836.62" y="329.1" width="5.15" height="13.5" fill="#82aaff"/>
<rect x="1846.59" y="333.2" width="1.5" height="37.8" fill="#da7474"/>
<rect x="1844.76" y="340.3" width="5.15" height="17.4" fill="#ff8888"/>
<rect x="1853.72" y="298.8" width="1.5" height="41.8" fill="#6a8cd8"/>
<rect x="1851.89" y="301.0" width="5.15" height="34.3" fill="#82aaff"/>
<rect x="1861.86" y="292.3" width="1.5" height="12.5" fill="#da7474"/>
<rect x="1860.04" y="299.6" width="5.15" height="1.4" fill="#ff8888"/>
<rect x="1870.01" y="290.2" width="1.5" height="19.7" fill="#6a8cd8"/>
<rect x="1868.19" y="290.6" width="5.15" height="6.1" fill="#82aaff"/>
<rect x="1878.16" y="279.1" width="1.5" height="23.8" fill="#6a8cd8"/>
<rect x="1876.33" y="281.4" width="5.15" height="18.2" fill="#82aaff"/>
</svg>
</div>
<div id="hdr">
<div id="logo"><span>FxPro</span></div>
<div id="sub">Data<span>:</span> TradingVIew<span style="display:inline-block;width:25.5px"></span>FxPro published Feb 20, 2025</div>
<div id="sep"></div>
<div id="ttl"><span style="letter-spacing:-1.6px">S&amp;</span>P<span style="display:inline-block;width:0.6px"></span> 500, Daily</div>
</div>
</body></html>
